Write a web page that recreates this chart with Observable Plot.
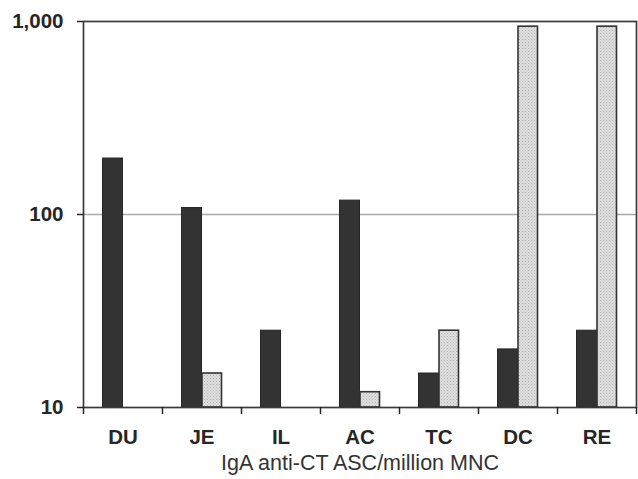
<!DOCTYPE html>
<html>
<head>
<meta charset="utf-8">
<script src="https://cdn.jsdelivr.net/npm/d3@7"></script>
<script src="https://cdn.jsdelivr.net/npm/@observablehq/plot@0.6"></script>
<style>
  html, body { margin: 0; padding: 0; background: #fff; }
</style>
</head>
<body>
<svg width="0" height="0" style="position:absolute">
  <defs>
    <pattern id="stipple" width="3" height="3" patternUnits="userSpaceOnUse">
      <rect width="3" height="3" fill="#dedede"></rect>
      <rect x="0" y="0" width="1" height="1" fill="#b5b5b5"></rect>
      <rect x="1.5" y="1.5" width="1" height="1" fill="#c4c4c4"></rect>
    </pattern>
  </defs>
</svg>
<div id="chart"></div>
<script>
const categories = ["DU", "JE", "IL", "AC", "TC", "DC", "RE"];
const darkValues = [195, 108, 25, 118, 15, 20, 25];
const lightValues = [null, 15, null, 12, 25, 940, 940];
const yTicks = [10, 100, 1000];
const gridValues = [100];
const xTitle = "IgA anti-CT ASC/million MNC";

const darkData = categories.map((c, i) => ({cat: c, value: darkValues[i]})).filter(d => d.value != null);
const lightData = categories.map((c, i) => ({cat: c, value: lightValues[i]})).filter(d => d.value != null);

const chart = Plot.plot({
  width: 638,
  height: 479,
  marginLeft: 83,
  marginRight: 2,
  marginTop: 21,
  marginBottom: 72,
  style: {fontFamily: "'Liberation Sans', Arial, sans-serif", color: "#262626", background: "white"},
  x: {domain: categories, padding: 0, axis: null, label: null},
  y: {type: "log", domain: [10, 1000], axis: null, label: null},
  marks: [
    Plot.ruleY(gridValues, {stroke: "#a8a8a8", strokeWidth: 1.3}),
    Plot.barY(darkData, {x: "cat", y1: 10, y2: "value", fill: "#333333", stroke: "#262626", strokeWidth: 1, insetLeft: 19.5, insetRight: 39.5}),
    Plot.barY(lightData, {x: "cat", y1: 10, y2: "value", fill: "url(#stipple)", stroke: "#333333", strokeWidth: 1.6, insetLeft: 40, insetRight: 19.5}),
    Plot.frame({stroke: "#3a3a3a", strokeWidth: 1.7}),
    Plot.axisY(yTicks, {tickSize: 6, tickPadding: 14, tickFormat: d3.format(","), fontSize: 20.5, fontWeight: "bold", strokeWidth: 1.5, label: null}),
    Plot.axisX({tickSize: 0, tickPadding: 22, fontSize: 20.5, fontWeight: "bold", label: null}),
    Plot.axisX({tickSize: 7, tickFormat: () => "", dx: 39.5, strokeWidth: 1.5, label: null}),
    Plot.axisX([categories[0]], {tickSize: 7, tickFormat: () => "", dx: -39.5, strokeWidth: 1.5, label: null}),
    Plot.text([xTitle], {text: d => d, frameAnchor: "bottom", dy: 62, fontSize: 21.5, fill: "#333"})
  ]
});
document.getElementById("chart").appendChild(chart);
</script>
</body>
</html>
